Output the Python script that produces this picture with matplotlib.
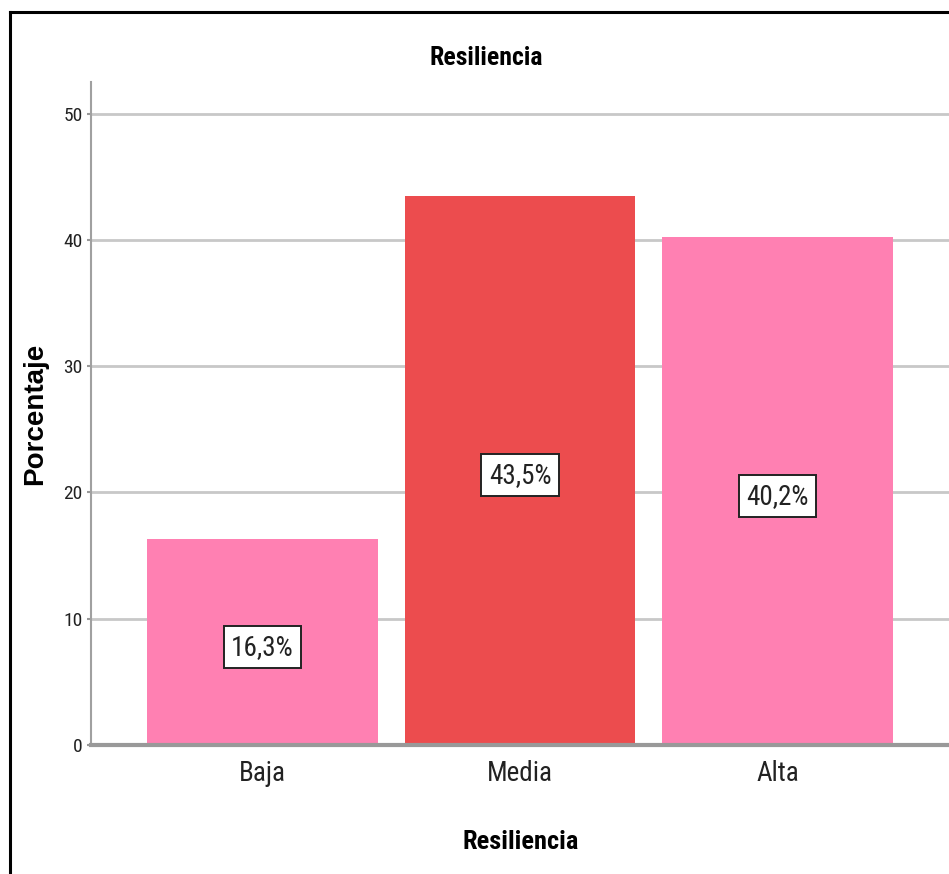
import matplotlib
matplotlib.use("Agg")
import matplotlib.pyplot as plt
from matplotlib.lines import Line2D

categories = ["Baja", "Media", "Alta"]
values = [16.3, 43.5, 40.2]
labels = ["16,3%", "43,5%", "40,2%"]
colors = ["#FF80B2", "#EC4C4E", "#FF80B2"]
yticks = [0, 10, 20, 30, 40, 50]

narrow = ["Roboto Condensed", "Liberation Sans", "DejaVu Sans"]

fig = plt.figure(figsize=(9.49, 8.74), dpi=100)
ax = fig.add_axes([91/949, 129/874, 1 - 91/949, (745-82)/874])

ax.set_axisbelow(True)
ax.yaxis.grid(True, color="#C8C8C8", linewidth=2)
x = list(range(len(categories)))
ax.bar(x, values, width=0.897, color=colors, zorder=2)
for xi, v, lab in zip(x, values, labels):
    ax.text(xi, v/2 - 0.4, lab, ha="center", va="center", fontsize=19.5,
            family=narrow, color="#222222", zorder=4,
            bbox=dict(boxstyle="square,pad=0.28", facecolor="white", edgecolor="#222222", linewidth=1.4))

ax.set_xlim(-0.666, 2.666)
ax.set_ylim(0, 52.5)
ax.set_yticks(yticks)
ax.set_xticks(x)
ax.set_xticklabels(categories, fontsize=19.5, family=narrow, color="#222222")
for t in ax.get_yticklabels():
    t.set_family(narrow)
    t.set_fontsize(14)
    t.set_color("#222222")
ax.tick_params(axis="y", length=3, color="#999999", width=1.5, pad=3)
ax.tick_params(axis="x", length=0, pad=11)
for s in ["top", "right"]:
    ax.spines[s].set_visible(False)
ax.spines["left"].set_color("#A0A0A0")
ax.spines["left"].set_linewidth(1.5)
ax.spines["bottom"].set_color("#999999")
ax.spines["bottom"].set_linewidth(3)
ax.spines["bottom"].set_zorder(3)

ax.set_ylabel("Porcentaje", fontsize=20, fontweight="bold", family=["Liberation Sans", "DejaVu Sans"])
ax.yaxis.set_label_coords(-0.050, 0.5)
ax.set_xlabel("Resiliencia", fontsize=19, fontweight="bold", family=narrow)
ax.xaxis.set_label_coords(0.501, -0.128)
fig.text(486/949, 1 - 58/874, "Resiliencia", ha="center", va="center", fontsize=18.5,
         fontweight="bold", family=narrow)

# outer frame (top and left edges visible)
fig.add_artist(Line2D([10/949, 10/949], [0, 1 - 12/874], transform=fig.transFigure, color="black", linewidth=2.2))
fig.add_artist(Line2D([10/949, 1], [1 - 12/874, 1 - 12/874], transform=fig.transFigure, color="black", linewidth=2.2))

fig.savefig("out.png", dpi=100, facecolor="white")
